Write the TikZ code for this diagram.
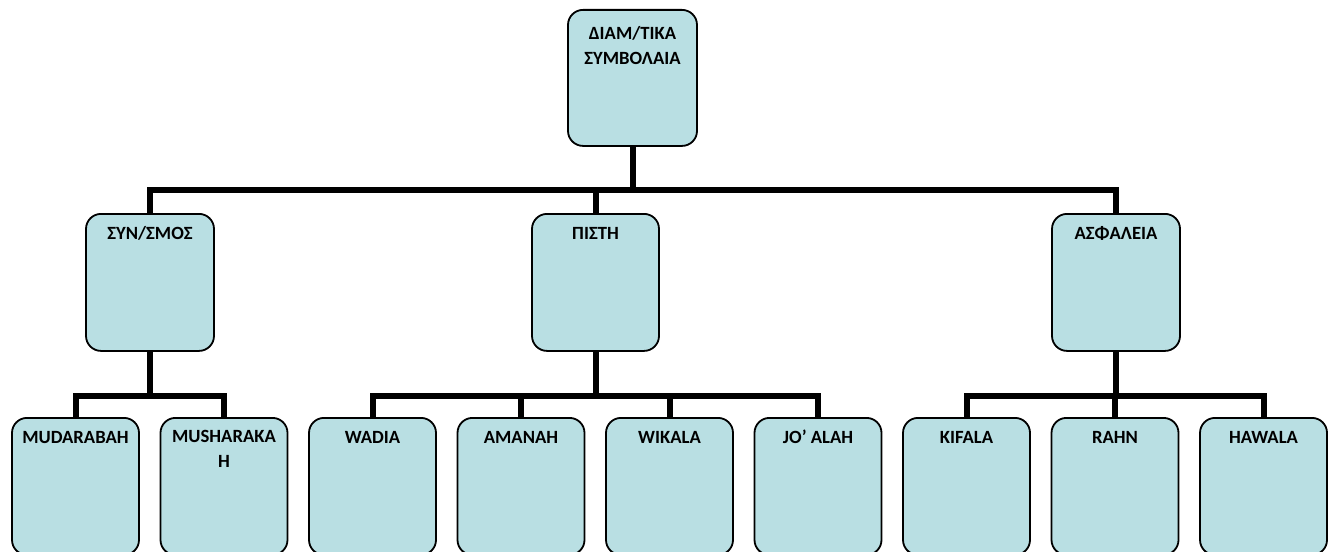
\documentclass[tikz,border=0pt]{standalone}
\usepackage{fontspec}
\setmainfont{Carlito}
\definecolor{boxfill}{RGB}{185,223,227}
\begin{document}
\begin{tikzpicture}[x=1pt,y=-1pt,font=\bfseries\fontsize{18.67}{25.5}\selectfont,
		box/.style={draw,line width=1.8pt,rounded corners=15pt,fill=boxfill,anchor=north,
			minimum width=127pt,minimum height=137pt,inner sep=0pt},
		conn/.style={line width=6pt,line join=miter},
		txt/.style={anchor=north,inner sep=0pt,text height=12pt,yshift=-14pt},
		txtm/.style={anchor=north,inner sep=0pt,align=center,yshift=-13pt}]
	\useasboundingbox (0,0) rectangle (1329,551);
	\clip (0,0) rectangle (1329,551);
	% top
	\node[box,minimum width=129pt,minimum height=136pt,label={[txtm,yshift=-4pt]north:ΔΙΑΜ/ΤΙΚΑ\\ΣΥΜΒΟΛΑΙΑ}] (diam) at (632.5,9) {};
	% second row
	\node[box,minimum width=128pt,label={[txt]north:ΣΥΝ/ΣΜΟΣ}] (syn) at (150,213) {};
	\node[box,label={[txt]north:ΠΙΣΤΗ}] (pis) at (595.5,213) {};
	\node[box,minimum width=128pt,label={[txt]north:ΑΣΦΑΛΕΙΑ}] (asf) at (1116,213) {};
	% third row
	\foreach \n/\x/\t in {mud/75.5/MUDARABAH,wad/372.5/WADIA,ama/521/AMANAH,wik/669.5/WIKALA,
			joa/818/JO’ ALAH,kif/966.5/KIFALA,rah/1115/RAHN,haw/1263.5/HAWALA}{
			\node[box,label={[txt]north:\t}] (\n) at (\x,417) {};}
	\node[box,label={[txtm]north:MUSHARAKA\\H}] (mus) at (224,417) {};
	% connectors
	\coordinate (j1) at (632.5,190);
	\draw[conn] (diam.south)--(j1);
	\draw[conn] (syn.north) |- (j1) -| (asf.north);
	\draw[conn] (pis.north)--(pis.north |- j1);
	\path (syn.south) ++(0,44) coordinate (j2);
	\path (pis.south) ++(0,44) coordinate (j3);
	\path (asf.south) ++(0,44) coordinate (j4);
	\draw[conn] (syn.south)--(j2);
	\draw[conn] (mud.north) |- (j2) -| (mus.north);
	\draw[conn] (pis.south)--(j3);
	\draw[conn] (wad.north) |- (j3) -| (joa.north);
	\draw[conn] (ama.north)--(ama.north |- j3);
	\draw[conn] (wik.north)--(wik.north |- j3);
	\draw[conn] (asf.south)--(j4);
	\draw[conn] (kif.north) |- (j4) -| (haw.north);
	\draw[conn] (rah.north)--(rah.north |- j4);
\end{tikzpicture}
\end{document}
